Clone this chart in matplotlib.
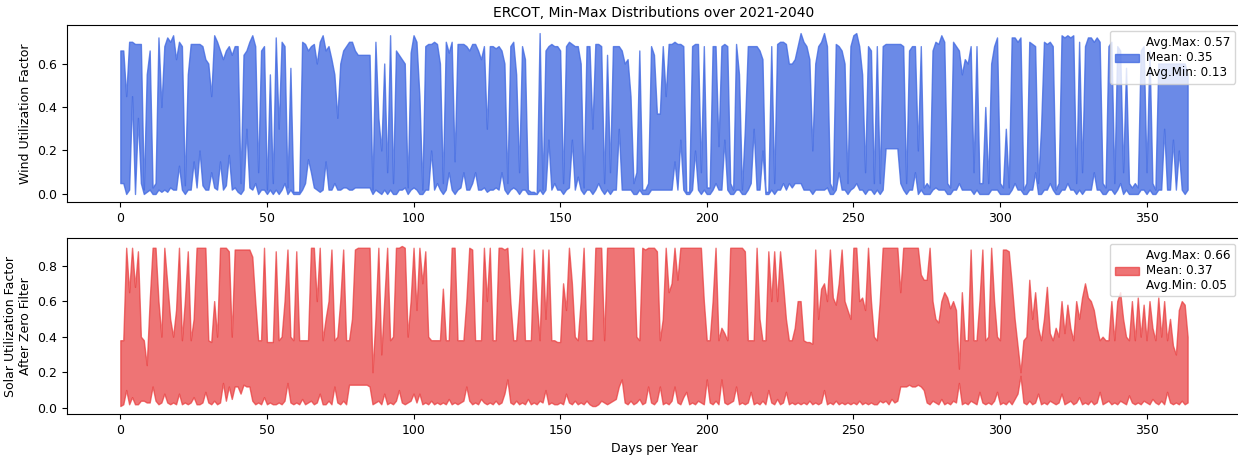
import numpy as np
import matplotlib.pyplot as plt

# daily min / max utilization, one value per day of year (0..364)
wind_max = [
    .66, .66, .45, .70, .70, .69, .69, .69, .02, .55,
    .66, .03, .05, .72, .40, .68, .72, .70, .73, .62,
    .70, .68, .04, .55, .69, .69, .69, .69, .68, .62,
    .60, .45, .73, .70, .66, .62, .66, .68, .64, .68,
    .68, .05, .64, .66, .70, .73, .68, .10, .66, .68,
    .02, .55, .05, .72, .30, .70, .68, .03, .58, .01,
    .01, .01, .70, .69, .66, .68, .69, .60, .70, .73,
    .66, .68, .62, .55, .35, .60, .66, .68, .70, .70,
    .66, .64, .64, .64, .64, .64, .02, .70, .35, .20,
    .60, .10, .73, .05, .66, .64, .62, .60, .03, .65,
    .73, .70, .45, .02, .68, .69, .69, .70, .69, .60,
    .05, .70, .65, .70, .15, .69, .69, .69, .68, .66,
    .69, .69, .66, .62, .68, .30, .68, .68, .67, .68,
    .66, .60, .05, .68, .70, .55, .10, .68, .62, .02,
    .01, .01, .00, .74, .02, .66, .68, .69, .68, .68,
    .66, .05, .68, .70, .69, .68, .68, .60, .03, .68,
    .68, .30, .69, .69, .68, .05, .64, .10, .68, .68,
    .68, .66, .60, .62, .45, .05, .10, .66, .02, .02,
    .05, .68, .64, .37, .37, .68, .45, .69, .69, .70,
    .69, .69, .68, .01, .01, .68, .69, .69, .10, .68,
    .03, .03, .68, .68, .22, .68, .69, .68, .05, .02,
    .69, .55, .02, .30, .68, .68, .68, .68, .66, .62,
    .01, .01, .68, .05, .69, .70, .70, .69, .60, .60,
    .62, .68, .74, .70, .68, .62, .20, .60, .68, .70,
    .74, .68, .05, .02, .69, .68, .66, .60, .05, .68,
    .73, .74, .68, .55, .10, .68, .66, .05, .68, .05,
    .68, .69, .69, .69, .69, .69, .69, .68, .05, .66,
    .68, .68, .20, .68, .03, .05, .03, .66, .70, .69,
    .73, .70, .05, .03, .70, .68, .66, .55, .62, .60,
    .68, .10, .68, .05, .05, .40, .05, .60, .68, .72,
    .05, .03, .30, .03, .72, .72, .70, .72, .02, .05,
    .70, .69, .68, .05, .30, .70, .69, .70, .68, .02,
    .05, .73, .72, .73, .72, .73, .05, .70, .10, .68,
    .72, .72, .70, .72, .70, .05, .03, .68, .70, .05,
    .68, .66, .10, .58, .05, .03, .05, .03, .66, .68,
    .10, .66, .05, .02, .60, .60, .60, .60, .60, .60,
    .60, .60, .60, .60, .55,
]
wind_min = [
    .05, .05, .00, .02, .45, .00, .35, .05, .00, .01,
    .02, .00, .00, .02, .01, .02, .01, .03, .02, .02,
    .13, .02, .00, .02, .02, .15, .03, .20, .04, .02,
    .02, .10, .03, .02, .15, .02, .04, .18, .02, .03,
    .01, .00, .02, .30, .03, .02, .05, .00, .02, .02,
    .00, .02, .00, .02, .00, .02, .05, .00, .02, .00,
    .00, .00, .02, .05, .16, .10, .03, .02, .01, .02,
    .15, .02, .02, .05, .02, .02, .03, .03, .02, .02,
    .03, .03, .03, .03, .03, .03, .00, .02, .01, .00,
    .02, .00, .02, .00, .00, .02, .02, .03, .00, .02,
    .03, .02, .00, .00, .02, .02, .20, .02, .05, .02,
    .00, .02, .10, .02, .00, .02, .03, .10, .02, .02,
    .05, .10, .02, .02, .03, .01, .02, .02, .03, .02,
    .10, .02, .00, .02, .03, .02, .00, .02, .02, .00,
    .00, .00, .00, .02, .00, .02, .25, .02, .05, .02,
    .02, .00, .02, .03, .25, .02, .08, .02, .00, .02,
    .02, .00, .02, .05, .02, .00, .02, .00, .02, .02,
    .30, .02, .02, .02, .02, .00, .00, .02, .00, .00,
    .00, .02, .02, .02, .02, .02, .02, .02, .02, .15,
    .02, .25, .02, .00, .00, .02, .20, .02, .00, .02,
    .00, .00, .02, .05, .02, .02, .25, .02, .00, .00,
    .02, .02, .00, .00, .02, .05, .30, .02, .02, .20,
    .00, .00, .02, .00, .02, .02, .05, .02, .05, .03,
    .05, .05, .05, .02, .02, .02, .00, .02, .02, .02,
    .02, .03, .00, .00, .02, .10, .02, .02, .00, .02,
    .03, .05, .02, .02, .00, .02, .02, .00, .02, .00,
    .02, .21, .21, .21, .21, .21, .05, .02, .00, .02,
    .02, .10, .00, .02, .00, .00, .00, .02, .03, .02,
    .02, .02, .00, .00, .02, .02, .05, .02, .02, .02,
    .02, .00, .02, .00, .00, .00, .00, .02, .02, .02,
    .00, .00, .00, .00, .02, .05, .02, .02, .00, .00,
    .02, .02, .10, .00, .00, .02, .02, .05, .02, .00,
    .00, .02, .02, .05, .02, .02, .00, .02, .00, .02,
    .02, .02, .10, .02, .02, .00, .00, .02, .02, .00,
    .02, .05, .00, .02, .00, .00, .00, .00, .02, .02,
    .00, .02, .00, .00, .02, .02, .30, .02, .02, .25,
    .02, .20, .02, .00, .02,
]

solar_max = [
    .38, .38, .90, .65, .90, .68, .88, .40, .38, .24,
    .60, .90, .90, .60, .40, .90, .70, .50, .40, .55,
    .90, .38, .60, .88, .38, .50, .90, .90, .90, .90,
    .38, .37, .60, .40, .90, .90, .90, .88, .40, .89,
    .89, .89, .89, .89, .89, .85, .60, .38, .38, .90,
    .37, .37, .37, .88, .38, .40, .60, .89, .40, .38,
    .88, .38, .38, .38, .38, .90, .90, .60, .90, .38,
    .50, .60, .89, .38, .40, .60, .89, .38, .38, .50,
    .89, .90, .90, .90, .90, .90, .20, .50, .90, .30,
    .60, .90, .38, .40, .90, .90, .91, .90, .40, .60,
    .90, .55, .90, .70, .88, .40, .38, .38, .38, .38,
    .67, .38, .38, .90, .90, .38, .38, .38, .60, .90,
    .89, .38, .38, .38, .90, .60, .90, .38, .38, .90,
    .90, .89, .90, .60, .38, .38, .60, .90, .38, .38,
    .38, .89, .60, .38, .89, .50, .89, .38, .38, .37,
    .37, .70, .55, .90, .70, .40, .38, .60, .90, .38,
    .38, .38, .90, .90, .90, .38, .90, .90, .90, .90,
    .90, .90, .90, .90, .90, .90, .40, .38, .90, .89,
    .90, .90, .90, .88, .38, .50, .90, .65, .70, .90,
    .72, .90, .90, .90, .90, .90, .90, .90, .90, .60,
    .38, .38, .60, .90, .38, .45, .42, .38, .90, .90,
    .90, .90, .90, .88, .38, .38, .38, .90, .50, .38,
    .38, .88, .60, .88, .60, .88, .70, .50, .38, .38,
    .45, .60, .60, .38, .37, .37, .36, .89, .50, .67,
    .70, .60, .89, .62, .58, .70, .89, .60, .55, .50,
    .90, .90, .60, .62, .55, .90, .60, .40, .38, .60,
    .90, .90, .90, .90, .90, .90, .65, .90, .90, .90,
    .90, .90, .90, .75, .72, .72, .90, .60, .50, .48,
    .60, .65, .62, .56, .60, .55, .22, .65, .38, .38,
    .89, .38, .38, .60, .89, .38, .40, .90, .60, .40,
    .38, .89, .89, .88, .70, .50, .35, .20, .38, .40,
    .72, .50, .65, .45, .38, .50, .68, .42, .38, .45,
    .40, .60, .42, .58, .45, .38, .60, .50, .62, .70,
    .62, .60, .55, .45, .38, .40, .38, .38, .60, .38,
    .60, .65, .50, .40, .38, .60, .38, .62, .40, .58,
    .38, .60, .45, .38, .62, .40, .60, .38, .50, .35,
    .30, .55, .60, .58, .40,
]
solar_min = [
    .01, .02, .10, .02, .06, .02, .02, .04, .04, .03,
    .03, .12, .04, .02, .03, .08, .03, .02, .03, .02,
    .08, .02, .03, .02, .03, .06, .02, .02, .03, .09,
    .03, .02, .04, .02, .03, .14, .04, .12, .05, .12,
    .12, .08, .13, .12, .12, .04, .02, .03, .02, .06,
    .02, .03, .02, .02, .03, .02, .04, .14, .03, .02,
    .03, .02, .05, .02, .03, .04, .02, .03, .08, .02,
    .02, .04, .02, .12, .03, .02, .04, .02, .13, .13,
    .13, .13, .13, .13, .13, .12, .02, .03, .04, .02,
    .08, .02, .03, .02, .04, .10, .03, .02, .03, .04,
    .08, .03, .08, .02, .03, .02, .04, .02, .03, .02,
    .03, .02, .05, .02, .03, .02, .03, .04, .12, .04,
    .02, .03, .02, .05, .03, .02, .03, .02, .04, .02,
    .03, .08, .16, .03, .02, .04, .02, .03, .02, .05,
    .02, .03, .02, .04, .03, .10, .02, .03, .02, .02,
    .03, .02, .08, .03, .02, .04, .02, .03, .02, .04,
    .02, .01, .01, .02, .04, .03, .02, .03, .04, .05,
    .12, .16, .03, .02, .04, .02, .03, .05, .02, .03,
    .12, .03, .02, .04, .12, .02, .03, .02, .04, .12,
    .03, .02, .06, .09, .02, .03, .02, .04, .03, .02,
    .16, .03, .02, .04, .02, .16, .03, .02, .03, .04,
    .12, .02, .03, .02, .03, .09, .02, .03, .02, .04,
    .02, .10, .03, .02, .05, .02, .03, .09, .02, .03,
    .02, .03, .02, .03, .02, .04, .02, .03, .02, .03,
    .10, .02, .03, .02, .04, .02, .03, .02, .03, .02,
    .03, .02, .04, .02, .03, .02, .03, .02, .02, .04,
    .03, .04, .02, .05, .03, .04, .12, .12, .12, .13,
    .12, .12, .13, .12, .10, .03, .02, .04, .03, .02,
    .05, .02, .03, .02, .04, .03, .14, .02, .03, .02,
    .04, .03, .02, .09, .03, .02, .03, .02, .04, .09,
    .02, .03, .02, .04, .02, .05, .08, .18, .03, .02,
    .04, .02, .03, .08, .02, .03, .02, .04, .03, .02,
    .03, .08, .02, .03, .04, .02, .03, .06, .02, .03,
    .02, .04, .02, .03, .09, .02, .03, .04, .02, .03,
    .02, .04, .03, .02, .07, .03, .02, .03, .02, .04,
    .03, .02, .05, .03, .02, .04, .02, .09, .03, .02,
    .03, .02, .04, .02, .03,
]

# summary stats shown in the legends: avg max, mean, avg min
wind_stats = (0.57, 0.35, 0.13)
solar_stats = (0.66, 0.37, 0.05)


def stats_label(stats):
    return "Avg.Max: %.2f\nMean: %.2f\nAvg.Min: %.2f" % stats


def add_legend(ax):
    leg = ax.legend(loc="upper right", fontsize=8.6, handlelength=2.0,
                    handletextpad=0.6)
    for t in leg.get_texts():
        t.set_multialignment("left")
    return leg


days = np.arange(len(wind_max))

fig = plt.figure(figsize=(12.38, 4.55), dpi=100)
ax1 = fig.add_axes([0.0541, 0.556, 0.9483, 0.389])
ax2 = fig.add_axes([0.0541, 0.090, 0.9483, 0.387])

ax1.fill_between(days, wind_min, wind_max, color="royalblue", alpha=0.78,
                 label=stats_label(wind_stats))
ax1.set_ylabel("Wind Utilization Factor", fontsize=9)
ax1.set_title("ERCOT, Min-Max Distributions over 2021-2040", fontsize=10)
add_legend(ax1)

ax2.fill_between(days, solar_min, solar_max, color="#e8393a", alpha=0.7,
                 label=stats_label(solar_stats))
ax2.set_ylabel("Solar Utilization Factor\nAfter Zero Filter", fontsize=9)
ax2.set_xlabel("Days per Year", fontsize=9)
add_legend(ax2)

for ax in (ax1, ax2):
    ax.tick_params(labelsize=9)

fig.savefig("out.png", dpi=100)
